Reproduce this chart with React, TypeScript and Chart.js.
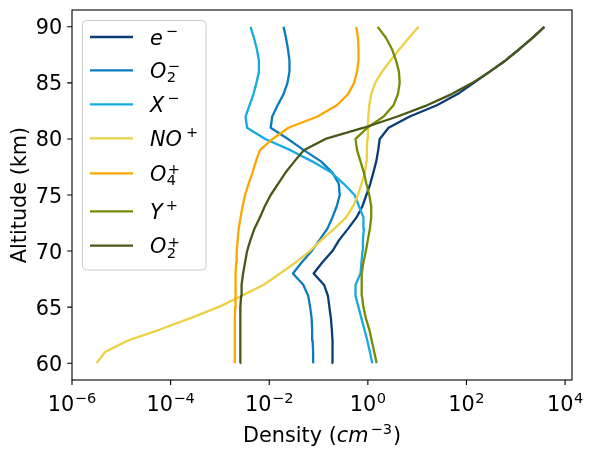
import React, { useEffect, useRef } from "react";
import { Chart, registerables } from "chart.js";

Chart.register(...registerables);

// Altitude grid (km) shared by every profile
const altitudeKm = [
  60, 61, 62, 63, 64, 65, 66, 67, 68, 69, 70, 71, 72, 73, 74, 75,
  76, 77, 78, 79, 80, 81, 82, 83, 84, 85, 86, 87, 88, 89, 90,
];

// Number densities (cm^-3), one value per altitude
const electrons = [
  0.195, 0.193, 0.191, 0.186, 0.178, 0.166, 0.155, 0.129, 0.0794, 0.12, 0.191,
  0.263, 0.398, 0.589, 0.776, 0.933, 1.12, 1.29, 1.48, 1.62, 1.74, 2.63, 7.08,
  25.1, 66.0, 141, 298, 622, 1180, 2160, 3810,
];
const o2Minus = [
  0.0776, 0.0776, 0.0759, 0.0741, 0.0724, 0.0676, 0.0617, 0.049, 0.0302, 0.0457,
  0.0724, 0.105, 0.151, 0.191, 0.234, 0.269, 0.257, 0.191, 0.112, 0.0501, 0.024,
  0.0107, 0.0115, 0.0148, 0.0195, 0.0234, 0.0257, 0.0257, 0.024, 0.0219, 0.0195,
];
const xMinus = [
  1.23, 1.1, 0.977, 0.851, 0.741, 0.646, 0.562, 0.562, 0.708, 0.741, 0.776,
  0.794, 0.832, 0.813, 0.661, 0.537, 0.324, 0.182, 0.0741, 0.0269, 0.0083,
  0.00355, 0.00331, 0.00398, 0.00479, 0.0055, 0.00617, 0.00617, 0.00562,
  0.0049, 0.00417,
];
const noPlus = [
  3.16e-6, 4.68e-6, 1.32e-5, 6.03e-5, 2.45e-4, 9.33e-4, 2.75e-3, 7.76e-3,
  0.0166, 0.0347, 0.0661, 0.115, 0.209, 0.363, 0.501, 0.631, 0.741, 0.871,
  0.933, 0.955, 0.977, 1.0, 1.02, 1.07, 1.17, 1.41, 1.95, 2.88, 4.37, 6.76, 10.7,
];
const o4Plus = [
  2.0e-3, 2.0e-3, 2.0e-3, 2.0e-3, 2.0e-3, 2.04e-3, 2.04e-3, 2.09e-3, 2.09e-3,
  2.14e-3, 2.19e-3, 2.29e-3, 2.4e-3, 2.63e-3, 2.88e-3, 3.24e-3, 3.8e-3, 4.57e-3,
  5.37e-3, 6.46e-3, 0.0117, 0.0245, 0.0955, 0.234, 0.398, 0.525, 0.603, 0.646,
  0.646, 0.631, 0.582,
];
const yPlus = [
  1.51, 1.35, 1.2, 1.07, 0.912, 0.813, 0.759, 0.741, 0.759, 0.813, 0.912, 1.0,
  1.1, 1.17, 1.17, 1.07, 0.933, 0.832, 0.708, 0.603, 0.562, 0.977, 2.09, 3.31,
  4.07, 4.42, 4.27, 3.72, 3.09, 2.34, 1.58,
];
const o2Plus = [
  2.57e-3, 2.57e-3, 2.57e-3, 2.57e-3, 2.63e-3, 2.63e-3, 2.69e-3, 2.75e-3,
  2.95e-3, 3.24e-3, 3.55e-3, 4.17e-3, 5.01e-3, 6.46e-3, 8.13e-3, 0.0107,
  0.0151, 0.0214, 0.0324, 0.0501, 0.138, 0.832, 3.98, 15.8, 50.1, 132, 295, 617,
  1170, 2140, 3800,
];

// Axis ticks
const xTickValues = [1e-6, 1e-4, 1e-2, 1, 1e2, 1e4];
const xTickExponents = ["\u22126", "\u22124", "\u22122", "0", "2", "4"];
const yTickValues = [60, 65, 70, 75, 80, 85, 90];

type Run = { t: string; it?: boolean; s?: boolean; dy?: number; dx?: number };

// Species: legend label pieces (italic nucleus, upright sub/superscripts)
const series: { name: string; runs: Run[]; color: string; values: number[] }[] = [
  {
    name: "e\u207b",
    runs: [{ t: "e", it: true }, { t: "\u2212", s: true, dy: -8.5, dx: 3 }],
    color: "#0a3c75",
    values: electrons,
  },
  {
    name: "O\u2082\u207b",
    runs: [
      { t: "O", it: true },
      { t: "2", s: true, dy: 4.5, dx: 0.5 },
      { t: "\u2212", s: true, dy: -6.5, dx: 1.5 },
    ],
    color: "#0b7bbf",
    values: o2Minus,
  },
  {
    name: "X\u207b",
    runs: [{ t: "X", it: true }, { t: "\u2212", s: true, dy: -8.5, dx: 3 }],
    color: "#16abe0",
    values: xMinus,
  },
  {
    name: "NO\u207a",
    runs: [{ t: "NO", it: true }, { t: "+", s: true, dy: -8.5, dx: 4 }],
    color: "#ecd144",
    values: noPlus,
  },
  {
    name: "O\u2084\u207a",
    runs: [
      { t: "O", it: true },
      { t: "4", s: true, dy: 4.5, dx: 0.5 },
      { t: "+", s: true, dy: -6.5, dx: 1.5 },
    ],
    color: "#fba700",
    values: o4Plus,
  },
  {
    name: "Y\u207a",
    runs: [{ t: "Y", it: true }, { t: "+", s: true, dy: -8.5, dx: 3 }],
    color: "#778b06",
    values: yPlus,
  },
  {
    name: "O\u2082\u207a",
    runs: [
      { t: "O", it: true },
      { t: "2", s: true, dy: 4.5, dx: 0.5 },
      { t: "+", s: true, dy: -6.5, dx: 1.5 },
    ],
    color: "#485818",
    values: o2Plus,
  },
];

const FAMILY = '"DejaVu Sans", sans-serif';
const FS = 20.8;
const SFS = FS * 0.7;
const LINE_WIDTH = 2.3;
const fontStr = (size: number, italic = false) =>
  `${italic ? "italic " : ""}${size}px ${FAMILY}`;

// Lays out a label made of a nucleus and optional sub/superscripts
function layoutRuns(ctx: CanvasRenderingContext2D, runs: Run[]) {
  let x = 0;
  let nucleusEnd = 0;
  const placed: { r: Run; x: number }[] = [];
  for (const r of runs) {
    ctx.font = fontStr(r.s ? SFS : FS, r.it);
    const w = ctx.measureText(r.t).width;
    const start = r.s ? nucleusEnd + (r.dx ?? 0) : x + (r.dx ?? 0);
    placed.push({ r, x: start });
    if (!r.s) nucleusEnd = start + w;
    x = Math.max(x, start + w);
  }
  return { placed, width: x };
}

function drawRuns(
  ctx: CanvasRenderingContext2D,
  runs: Run[],
  x: number,
  baseline: number,
  align: "left" | "center"
) {
  const { placed, width } = layoutRuns(ctx, runs);
  const x0 = align === "center" ? x - width / 2 : x;
  ctx.textAlign = "left";
  ctx.textBaseline = "alphabetic";
  for (const p of placed) {
    ctx.font = fontStr(p.r.s ? SFS : FS, p.r.it);
    ctx.fillText(p.r.t, x0 + p.x, baseline + (p.r.dy ?? 0));
  }
}

const xTitleRuns: Run[] = [
  { t: "Density (" },
  { t: "cm", it: true },
  { t: "\u22123", s: true, dy: -8.5, dx: 2 },
  { t: ")", dx: 1 },
];

// Legend box and row placement
const legendBox = { left: 82.5, top: 20.5, width: 123.5, height: 249.5 };
const legendRowY = [37, 70.3, 104.3, 138.3, 173.3, 211.3, 245.7];
const legendHandle = { x0: 90, x1: 133, textX: 150 };

const decorPlugin = {
  id: "decor",
  afterDatasetsDraw(chart: Chart) {
    const { ctx, chartArea: a } = chart;
    const xs = chart.scales.x;
    const ys = chart.scales.y;
    ctx.save();
    ctx.strokeStyle = "#000";
    ctx.fillStyle = "#000";
    ctx.lineWidth = 1.1;

    // frame
    ctx.strokeRect(a.left, a.top, a.right - a.left, a.bottom - a.top);

    // tick marks
    ctx.beginPath();
    for (const v of yTickValues) {
      const py = ys.getPixelForValue(v);
      ctx.moveTo(a.left, py);
      ctx.lineTo(a.left - 4.9, py);
    }
    for (const v of xTickValues) {
      const px = xs.getPixelForValue(v);
      ctx.moveTo(px, a.bottom);
      ctx.lineTo(px, a.bottom + 4.9);
    }
    ctx.stroke();

    // y tick labels
    ctx.font = fontStr(FS);
    ctx.textAlign = "right";
    ctx.textBaseline = "alphabetic";
    for (const v of yTickValues) {
      ctx.fillText(String(v), a.left - 9.8, ys.getPixelForValue(v) + 7.5);
    }

    // x tick labels (powers of ten)
    xTickValues.forEach((v, i) => {
      drawRuns(
        ctx,
        [{ t: "10" }, { t: xTickExponents[i], s: true, dy: -8.5, dx: 0.5 }],
        xs.getPixelForValue(v),
        a.bottom + 31,
        "center"
      );
    });

    // axis titles
    drawRuns(ctx, xTitleRuns, (a.left + a.right) / 2, 442, "center");
    ctx.save();
    ctx.translate(26, (a.top + a.bottom) / 2);
    ctx.rotate(-Math.PI / 2);
    ctx.font = fontStr(FS);
    ctx.textAlign = "center";
    ctx.textBaseline = "alphabetic";
    ctx.fillText("Altitude (km)", 0, 0);
    ctx.restore();

    // legend
    ctx.beginPath();
    ctx.roundRect(legendBox.left, legendBox.top, legendBox.width, legendBox.height, 4);
    ctx.fillStyle = "rgba(255,255,255,0.8)";
    ctx.fill();
    ctx.strokeStyle = "#cccccc";
    ctx.lineWidth = 1;
    ctx.stroke();
    series.forEach((s, i) => {
      const y = legendRowY[i];
      ctx.beginPath();
      ctx.moveTo(legendHandle.x0, y);
      ctx.lineTo(legendHandle.x1, y);
      ctx.strokeStyle = s.color;
      ctx.lineWidth = LINE_WIDTH;
      ctx.lineCap = "butt";
      ctx.stroke();
      ctx.fillStyle = "#000";
      drawRuns(ctx, s.runs, legendHandle.textX, y + 7.5, "left");
    });
    ctx.restore();
  },
};

export default function App() {
  const canvasRef = useRef<HTMLCanvasElement>(null);

  useEffect(() => {
    const canvas = canvasRef.current;
    if (!canvas) return;
    const chart = new Chart(canvas, {
      type: "scatter",
      data: {
        datasets: series.map((s, i) => ({
          label: s.name,
          data: altitudeKm.map((alt, k) => ({ x: s.values[k], y: alt })),
          showLine: true,
          borderColor: s.color,
          backgroundColor: s.color,
          borderWidth: LINE_WIDTH,
          pointRadius: 0,
          pointHoverRadius: 0,
          tension: 0,
          borderJoinStyle: "round" as const,
          order: series.length - i,
        })),
      },
      options: {
        responsive: false,
        animation: false,
        devicePixelRatio: 1,
        events: [],
        layout: { padding: { left: 72, right: 18, top: 10, bottom: 79 } },
        scales: {
          x: { type: "logarithmic", min: 1e-6, max: Math.pow(10, 4.14), display: false },
          y: { type: "linear", min: 58.5, max: 91.5, display: false },
        },
        plugins: { legend: { display: false }, tooltip: { enabled: false } },
      },
      plugins: [decorPlugin],
    });
    return () => chart.destroy();
  }, []);

  return (
    <div
      style={{
        position: "fixed",
        left: 0,
        top: 0,
        width: 590,
        height: 459,
        background: "#ffffff",
      }}
    >
      <canvas ref={canvasRef} width={590} height={459} style={{ display: "block" }} />
    </div>
  );
}
